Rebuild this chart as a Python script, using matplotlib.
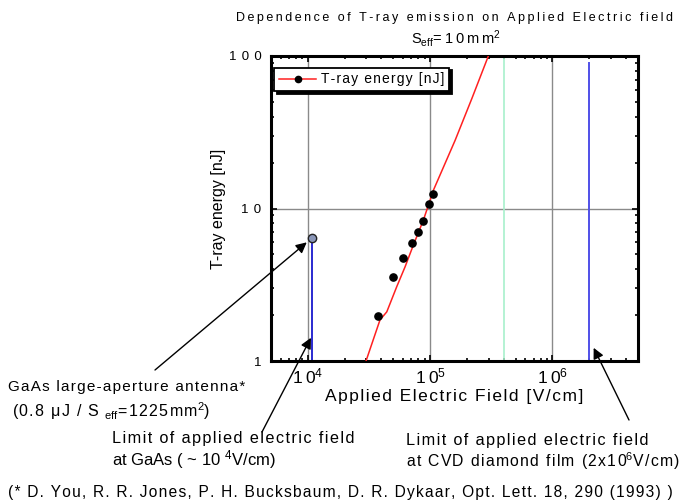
import numpy as np
import matplotlib
matplotlib.use('Agg')
import matplotlib.pyplot as plt
from matplotlib.ticker import FixedLocator, LogLocator, NullFormatter

plt.rcParams['font.family'] = ['Liberation Sans', 'DejaVu Sans']
plt.rcParams['mathtext.fontset'] = 'custom'
plt.rcParams['mathtext.rm'] = 'Liberation Sans'
plt.rcParams['mathtext.it'] = 'Liberation Sans:italic'
plt.rcParams['mathtext.default'] = 'regular'

# === measured T-ray energy (black dots) ===
field_meas = [3.73e4, 4.95e4, 6.0e4, 7.1e4, 8.0e4, 8.8e4, 9.75e4, 1.06e5]
energy_meas = [1.97, 3.54, 4.71, 5.91, 7.01, 8.28, 10.65, 12.45]

# === fitted curve (red) ===
field_fit = [2.99e4, 3.89e4, 4.42e4, 5.33e4, 6.24e4, 7.29e4, 8.81e4, 1.064e5, 1.6e5, 2.2e5, 2.99e5]
energy_fit = [1.0, 1.86, 2.10, 3.07, 4.15, 5.76, 8.41, 13.2, 28, 53, 100]

# === reference markers ===
gaas_field = 1.08e4
gaas_energy = 6.4
green_field = 4.0e5
cvd_field = 2.0e6
cvd_top = 90

W, H = 694, 500
THIN, HAIR = '\u2009', '\u200a'


def track(s, sep=THIN):
    # crude letter spacing
    return sep.join(s)


def fx(px):
    return px / W


def fy(py):
    return 1 - py / H


fig = plt.figure(figsize=(6.94, 5.0), dpi=100)
ax = fig.add_axes([fx(271), fy(361), fx(638) - fx(271), fy(56) - fy(361)])
ax.set_xscale('log')
ax.set_yscale('log')
ax.set_xlim(5e3, 5e6)
ax.set_ylim(1, 100)

# grid at major decades
for v in [1e4, 1e5, 1e6]:
    ax.axvline(v, color='#8a8a8a', lw=1.0, zorder=1)
ax.axhline(10, color='#8a8a8a', lw=1.0, zorder=1)

ax.axvline(green_field, color='#a8f0cc', lw=1.2, zorder=2)
ax.plot([cvd_field, cvd_field], [1, cvd_top], color='#5050e8', lw=1.4, zorder=2)
ax.plot([gaas_field, gaas_field], [1, gaas_energy], color='#2a2ad0', lw=1.4, zorder=2)
ax.plot([gaas_field], [gaas_energy], 'o', ms=6, mfc='#8a96b8', mec='#222222', mew=1.0, zorder=4)

ax.plot(field_fit, energy_fit, color='#ff2020', lw=1.1, zorder=3)
ax.plot(field_meas, energy_meas, 'o', color='black', ms=5.2, zorder=4)

# legend handle: red line with black dot
h, = ax.plot([], [], color='#ff2020', lw=1.1, marker='o', mfc='black', mec='black', ms=4.5)
leg = ax.legend([h], [track('T-ray energy [nJ]', HAIR)], loc='upper left',
                bbox_to_anchor=(0.008, 0.962), borderaxespad=0, fancybox=False, framealpha=1,
                edgecolor='black', fontsize=10, handlelength=2.7, handletextpad=0.35,
                borderpad=0.35, shadow={'color': 'black', 'alpha': 1})
leg.get_frame().set_linewidth(1.3)

# ticks
ax.xaxis.set_major_locator(FixedLocator([1e4, 1e5, 1e6]))
ax.xaxis.set_minor_locator(LogLocator(base=10, subs=np.arange(2, 10)))
ax.xaxis.set_minor_formatter(NullFormatter())
ax.set_xticklabels(['1' + THIN + '$0^{4}$', '1' + THIN + '$0^{5}$', '1' + THIN + '$0^{6}$'],
                   fontsize=12.5)
ax.yaxis.set_major_locator(FixedLocator([1, 10, 100]))
ax.yaxis.set_minor_locator(LogLocator(base=10, subs=np.arange(2, 10)))
ax.yaxis.set_minor_formatter(NullFormatter())
ax.set_yticklabels(['1', track('10', THIN * 2), track('100', THIN * 2)], fontsize=9.5)
ax.tick_params(which='both', direction='in', top=True, right=True, width=1.2)
ax.tick_params(which='major', length=4, pad=7)
ax.tick_params(axis='x', which='major', pad=4)
ax.tick_params(which='minor', length=2.5)
for s in ax.spines.values():
    s.set_linewidth(2.2)

ax.set_xlabel(track('Applied Electric Field [V/cm]', HAIR), fontsize=12.5, labelpad=2)
ax.set_ylabel('T-ray energy [nJ]', fontsize=11.5)
ax.yaxis.set_label_coords((226 - 271) / 367, 0.5)

# titles
fig.text(fx(455), fy(18), track('Dependence of T-ray emission on Applied Electric field'),
         ha='center', va='center', fontsize=9)
fig.text(fx(456), fy(38), track('S') + '$_{\\rm eff}$' + track('=10mm') + '$^{2}$',
         ha='center', va='center', fontsize=10.5)

# arrows
arrow = dict(arrowstyle='-|>', color='black', lw=1.0, mutation_scale=16, shrinkA=0, shrinkB=0)
ax.annotate('', xy=(0.98e4, 6.0), xytext=(155, H - 370), textcoords='figure pixels',
            arrowprops=arrow)
ax.annotate('', xy=(1.06e4, 1.42), xytext=(262, H - 432), textcoords='figure pixels',
            arrowprops=arrow)
ax.annotate('', xy=(2.17e6, 1.22), xytext=(629, H - 420), textcoords='figure pixels',
            arrowprops=arrow)

# annotation texts
fig.text(fx(8), fy(387), track('GaAs large-aperture antenna*', HAIR), va='center', fontsize=11)
fig.text(fx(12), fy(411), track('(0.8 \u03bcJ / S ', HAIR) + '$_{eff}$' + track('=1225mm', HAIR)
         + '$^{2}$' + ')', va='center', fontsize=11.5)
fig.text(fx(112), fy(438), track('Limit of applied electric field', HAIR), va='center', fontsize=11.7)
fig.text(fx(112), fy(460), 'at GaAs ( ~ 10 $^{4}$V/cm)', va='center', fontsize=12)
fig.text(fx(406), fy(440), track('Limit of applied electric field', HAIR), va='center', fontsize=11.7)
fig.text(fx(406), fy(461), track('at CVD diamond film (2x10', HAIR) + '$^{6}$' + track('V/cm)', HAIR),
         va='center', fontsize=11.3)
fig.text(fx(8), fy(493),
         track('(* D. You, R. R. Jones, P. H. Bucksbaum, D. R. Dykaar, Opt. Lett. 18, 290 (1993) )', HAIR),
         va='center', fontsize=11.2)

fig.savefig('out.png', dpi=100)
